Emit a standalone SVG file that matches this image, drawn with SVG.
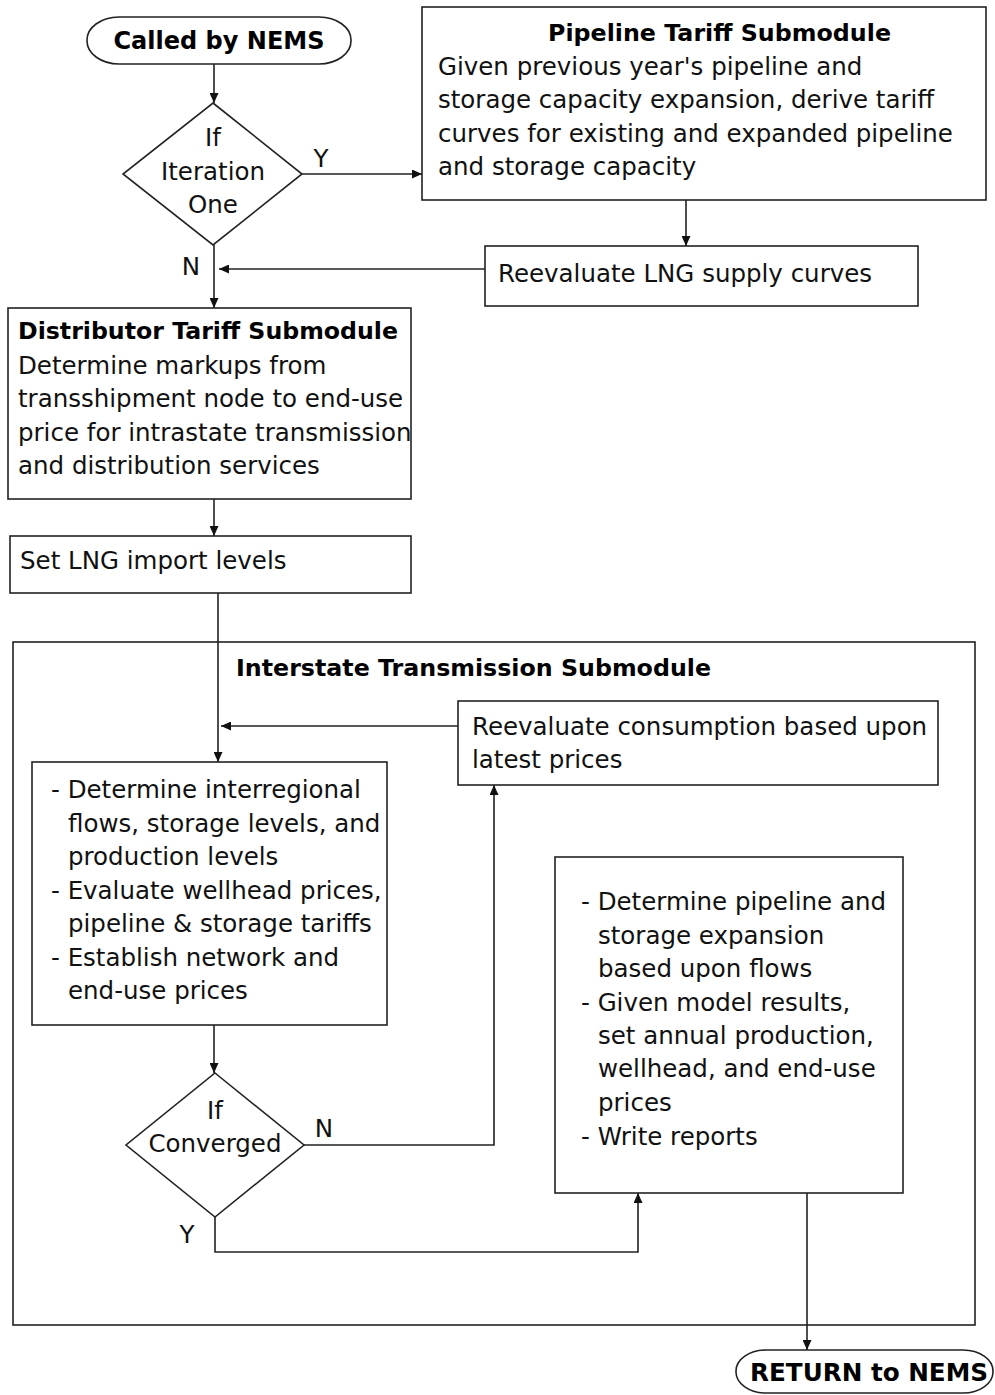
<svg xmlns="http://www.w3.org/2000/svg" width="995" height="1395" viewBox="0 0 995 1395">
<style>
.box{fill:#fff;stroke:#222;stroke-width:1.6}
.t{font-family:"DejaVu Sans",sans-serif;font-size:24.5px;fill:#111}
.b{font-family:"DejaVu Sans",sans-serif;font-size:23px;font-weight:bold;fill:#000}
.m{text-anchor:middle}
.c{fill:none;stroke:#222;stroke-width:1.6}
</style>
<defs>
<marker id="ah" markerUnits="userSpaceOnUse" markerWidth="10" markerHeight="9" refX="10" refY="4.5" orient="auto">
<path d="M0,0 L10,4.5 L0,9 z" fill="#111"/>
</marker>
</defs>
<rect width="995" height="1395" fill="#fff"/>

<g id="outer">
<rect class="box" x="13" y="642" width="962" height="683" fill="none"/>
<text class="b" x="236" y="676" textLength="475" lengthAdjust="spacingAndGlyphs">Interstate Transmission Submodule</text>
</g>

<g id="connectors">
<line class="c" x1="214" y1="64" x2="214" y2="103" marker-end="url(#ah)"/>
<line class="c" x1="302" y1="174" x2="422" y2="174" marker-end="url(#ah)"/>
<line class="c" x1="686" y1="200" x2="686" y2="246" marker-end="url(#ah)"/>
<line class="c" x1="485" y1="269" x2="219" y2="269" marker-end="url(#ah)"/>
<line class="c" x1="214" y1="245" x2="214" y2="308" marker-end="url(#ah)"/>
<line class="c" x1="214" y1="499" x2="214" y2="536" marker-end="url(#ah)"/>
<line class="c" x1="218" y1="593" x2="218" y2="762" marker-end="url(#ah)"/>
<line class="c" x1="458" y1="726" x2="221" y2="726" marker-end="url(#ah)"/>
<line class="c" x1="214" y1="1025" x2="214" y2="1073" marker-end="url(#ah)"/>
<polyline class="c" points="304,1145 494,1145 494,785" marker-end="url(#ah)"/>
<polyline class="c" points="215,1217 215,1252 638,1252 638,1193" marker-end="url(#ah)"/>
<line class="c" x1="807" y1="1193" x2="807" y2="1350" marker-end="url(#ah)"/>
<text class="t m" x="321" y="167">Y</text>
<text class="t m" x="191" y="275">N</text>
<text class="t m" x="324" y="1137">N</text>
<text class="t m" x="187" y="1243">Y</text>
</g>

<g id="start">
<rect class="box" x="87" y="17" width="264" height="47" rx="32" ry="23"/>
<text class="b m" x="219" y="49" textLength="211" lengthAdjust="spacingAndGlyphs" style="font-size:24px">Called by NEMS</text>
</g>

<g id="iter1">
<polygon class="box" points="213,103 302,174 213,245 123,174"/>
<text class="t m" x="213" y="146">If</text>
<text class="t m" x="213" y="180">Iteration</text>
<text class="t m" x="213" y="213">One</text>
</g>

<g id="pipeline">
<rect class="box" x="422" y="7" width="564" height="193"/>
<text class="b" x="548" y="41" textLength="343" lengthAdjust="spacingAndGlyphs">Pipeline Tariff Submodule</text>
<text class="t" x="438" y="75">Given previous year's pipeline and</text>
<text class="t" x="438" y="108">storage capacity expansion, derive tariff</text>
<text class="t" x="438" y="142">curves for existing and expanded pipeline</text>
<text class="t" x="438" y="175">and storage capacity</text>
</g>

<g id="lng">
<rect class="box" x="485" y="246" width="433" height="60"/>
<text class="t" x="498" y="282">Reevaluate LNG supply curves</text>
</g>

<g id="distributor">
<rect class="box" x="8" y="308" width="403" height="191"/>
<text class="b" x="18" y="339" textLength="380" lengthAdjust="spacingAndGlyphs">Distributor Tariff Submodule</text>
<text class="t" x="18" y="374">Determine markups from</text>
<text class="t" x="18" y="407">transshipment node to end-use</text>
<text class="t" x="18" y="441">price for intrastate transmission</text>
<text class="t" x="18" y="474">and distribution services</text>
</g>

<g id="setlng">
<rect class="box" x="10" y="536" width="401" height="57"/>
<text class="t" x="20" y="569">Set LNG import levels</text>
</g>

<g id="consumption">
<rect class="box" x="458" y="701" width="480" height="84"/>
<text class="t" x="472" y="735">Reevaluate consumption based upon</text>
<text class="t" x="472" y="768">latest prices</text>
</g>

<g id="determine">
<rect class="box" x="32" y="762" width="355" height="263"/>
<text class="t" x="51" y="798">- Determine interregional</text>
<text class="t" x="68" y="832">flows, storage levels, and</text>
<text class="t" x="68" y="865">production levels</text>
<text class="t" x="51" y="899">- Evaluate wellhead prices,</text>
<text class="t" x="68" y="932">pipeline &amp; storage tariffs</text>
<text class="t" x="51" y="966">- Establish network and</text>
<text class="t" x="68" y="999">end-use prices</text>
</g>

<g id="converged">
<polygon class="box" points="215,1073 304,1145 215,1217 126,1145"/>
<text class="t m" x="215" y="1119">If</text>
<text class="t m" x="215" y="1152">Converged</text>
</g>

<g id="expansion">
<rect class="box" x="555" y="857" width="348" height="336"/>
<text class="t" x="581" y="910">- Determine pipeline and</text>
<text class="t" x="598" y="944">storage expansion</text>
<text class="t" x="598" y="977">based upon flows</text>
<text class="t" x="581" y="1011">- Given model results,</text>
<text class="t" x="598" y="1044">set annual production,</text>
<text class="t" x="598" y="1077">wellhead, and end-use</text>
<text class="t" x="598" y="1111">prices</text>
<text class="t" x="581" y="1145">- Write reports</text>
</g>

<g id="return">
<rect class="box" x="736" y="1350" width="257" height="43" rx="30" ry="21"/>
<text class="b m" x="869" y="1381" textLength="238" lengthAdjust="spacingAndGlyphs" style="font-size:24.5px">RETURN to NEMS</text>
</g>
</svg>
